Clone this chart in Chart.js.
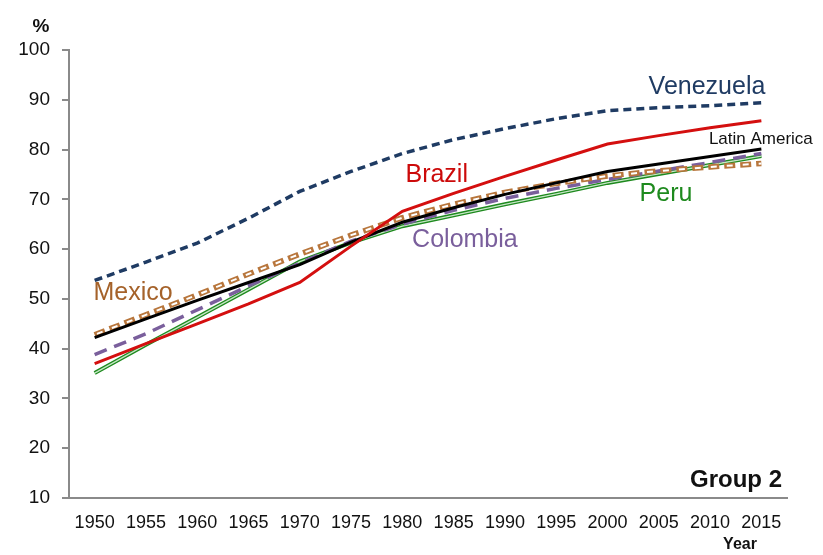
<!DOCTYPE html>
<html>
<head>
<meta charset="utf-8">
<script src="https://cdn.jsdelivr.net/npm/chart.js@4/dist/chart.umd.min.js"></script>
<style>
  html, body { margin: 0; padding: 0; background: #fff; }
  #wrap { width: 823px; height: 555px; }
</style>
</head>
<body>
<div id="wrap"><canvas id="chart" width="823" height="555"></canvas></div>
<script>
const years = ['1950', '1955', '1960', '1965', '1970', '1975', '1980', '1985', '1990', '1995', '2000', '2005', '2010', '2015'];

const venezuela = [53.7, 57.4, 61.2, 66.2, 71.6, 75.6, 79.2, 82.0, 84.2, 86.2, 87.8, 88.4, 88.8, 89.4];
const brazil = [37.0, 41.0, 45.0, 49.0, 53.3, 60.6, 67.6, 71.2, 74.6, 77.9, 81.1, 82.8, 84.4, 85.8];
const latinAmerica = [42.2, 46.0, 49.7, 53.3, 56.9, 61.4, 65.4, 68.3, 71.0, 73.3, 75.6, 77.1, 78.6, 80.1];
const mexico = [42.8, 46.8, 50.8, 55.0, 59.0, 62.8, 66.3, 69.0, 71.4, 73.2, 74.7, 75.7, 76.5, 77.2];
const colombia = [38.8, 43.0, 47.8, 52.6, 57.2, 61.6, 65.0, 67.8, 70.2, 72.2, 74.0, 75.7, 77.4, 79.2];
const peru = [35.1, 40.8, 46.3, 51.9, 57.5, 61.3, 64.6, 66.8, 69.0, 71.1, 73.3, 75.1, 76.9, 78.7];

// text labels, placed in data units (category index, percent)
const labels = [
  { text: 'Venezuela', x: 11.94, y: 92.6, color: '#1f3b63', size: 25 },
  { text: 'Brazil', x: 6.67, y: 74.8, color: '#cc0a0a', size: 25 },
  { text: 'Latin America', x: 12.99, y: 82.1, color: '#111', size: 17 },
  { text: 'Peru', x: 11.14, y: 71.0, color: '#1e8a1e', size: 25 },
  { text: 'Colombia', x: 7.22, y: 61.8, color: '#7a5f9c', size: 25 },
  { text: 'Mexico', x: 0.75, y: 51.1, color: '#a5622a', size: 25 }
];

const FONT = '"Liberation Sans", Arial, sans-serif';
const AXIS = '#8a8a8a';

const textPlugin = {
  id: 'texts',
  afterDraw(chart) {
    const { ctx, chartArea, scales } = chart;
    ctx.save();
    ctx.textAlign = 'center';
    ctx.textBaseline = 'middle';
    labels.forEach((l) => {
      ctx.font = `${l.size}px ${FONT}`;
      ctx.fillStyle = l.color;
      ctx.fillText(l.text, scales.x.getPixelForValue(l.x), scales.y.getPixelForValue(l.y));
    });
    ctx.fillStyle = '#111';
    ctx.font = `bold 24px ${FONT}`;
    ctx.textAlign = 'right';
    ctx.fillText('Group 2', chartArea.right - 5, chartArea.bottom - 18);
    ctx.font = `bold 16px ${FONT}`;
    ctx.textAlign = 'center';
    ctx.fillText('Year', chartArea.right - 47, chartArea.bottom + 47);
    ctx.font = `bold 19px ${FONT}`;
    ctx.fillText('%', chartArea.left - 28, chartArea.top - 23);
    ctx.restore();
  }
};

// lower order is drawn on top
function line(data, color, width, dash, order, dashOffset) {
  return {
    data,
    borderColor: color,
    borderWidth: width,
    borderDash: dash || [],
    borderDashOffset: dashOffset || 0,
    pointRadius: 0,
    tension: 0,
    fill: false,
    order
  };
}

new Chart(document.getElementById('chart'), {
  type: 'line',
  data: {
    labels: years,
    datasets: [
      line(venezuela, '#1f3b63', 3.5, [8, 5], 1),
      line(brazil, '#d40f0f', 3, [], 2),
      line(latinAmerica, '#000', 3, [], 3),
      // Mexico: outlined dashes (brown dash with a shorter white dash inside)
      line(mexico, '#b8763c', 5.5, [11, 5], 5),
      line(mexico, '#fff', 2, [6, 10], 4, 13.5),
      line(colombia, '#7a5f9c', 3.5, [13, 8], 6),
      line(peru, '#1e8a1e', 4, [], 8),
      line(peru, '#c6e6c6', 1.3, [], 7)
    ]
  },
  options: {
    responsive: false,
    animation: false,
    layout: { padding: { top: 50, right: 36, bottom: 0, left: 0 } },
    plugins: { legend: { display: false }, tooltip: { enabled: false } },
    scales: {
      x: {
        offset: true,
        grid: { display: false, drawTicks: false },
        border: { display: true, color: AXIS, width: 2 },
        ticks: { color: '#111', font: { family: FONT, size: 18 }, padding: 14, maxRotation: 0, autoSkip: false },
        afterFit(s) { s.height = 57; }
      },
      y: {
        min: 10,
        max: 100,
        grid: { drawOnChartArea: false, drawTicks: true, tickLength: 7, color: AXIS, lineWidth: 2 },
        border: { display: true, color: AXIS, width: 2 },
        ticks: { stepSize: 10, color: '#111', font: { family: FONT, size: 19 }, padding: 12 },
        afterFit(s) { s.width = 69; }
      }
    }
  },
  plugins: [textPlugin]
});
</script>
</body>
</html>
